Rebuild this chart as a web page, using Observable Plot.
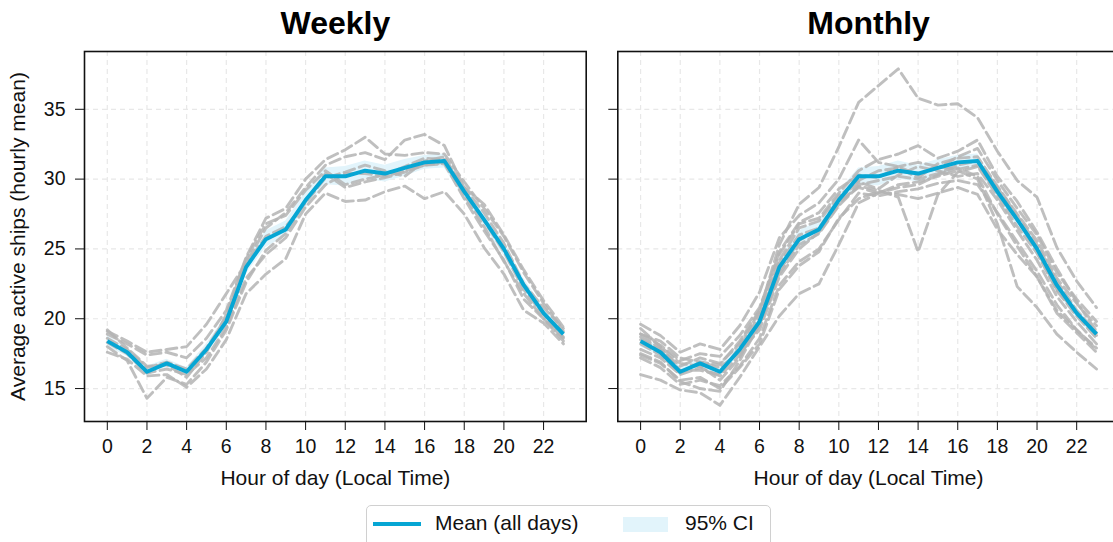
<!DOCTYPE html>
<html>
<head>
<meta charset="utf-8">
<script src="https://cdn.jsdelivr.net/npm/d3@7"></script>
<script src="https://cdn.jsdelivr.net/npm/@observablehq/plot@0.6"></script>
<style>
  html, body { margin: 0; padding: 0; background: #fff; overflow: hidden; }
  #wrap { position: relative; width: 1113px; height: 542px; overflow: hidden; font-family: "Liberation Sans", Arial, sans-serif; }
  .panel { position: absolute; top: 0; }
  #legend { position: absolute; left: 366px; top: 505px; width: 405px; height: 48px; border: 1.5px solid #d0d0d0; border-radius: 5px; box-sizing: border-box; background: #fff; font-size: 21px; color: #111; }
  #legend .item { position: absolute; top: 5px; }
</style>
</head>
<body>
<div id="wrap">
  <div id="pw" class="panel" style="left:0px;width:600px"></div>
  <div id="pm" class="panel" style="left:600px;width:520px"></div>
  <div id="legend">
    <div style="position:absolute;left:6px;top:16px;width:48px;height:4px;background:#06a6d4"></div>
    <div class="item" style="left:68px">Mean (all days)</div>
    <div style="position:absolute;left:256px;top:11px;width:45px;height:15px;background:#e2f4fb"></div>
    <div class="item" style="left:318px">95% CI</div>
  </div>
</div>
<script>
// ---------------- data ----------------
const hours = [0,1,2,3,4,5,6,7,8,9,10,11,12,13,14,15,16,17,18,19,20,21,22,23];
const xTicks = [0,2,4,6,8,10,12,14,16,18,20,22];
const yTicks = [15,20,25,30,35];
const panelTitles = ["Weekly", "Monthly"];

const meanAll = [18.4,17.6,16.2,16.8,16.2,17.8,19.8,23.7,25.7,26.4,28.5,30.2,30.2,30.6,30.4,30.8,31.2,31.3,29.1,27.1,25.0,22.4,20.4,18.9];
const ciLow  = [18.0,17.3,15.9,16.5,15.9,17.4,19.4,23.2,25.1,25.9,27.9,29.6,29.5,30.0,29.8,30.2,30.7,30.8,28.6,26.6,24.5,21.9,20.0,18.5];
const ciHigh = [18.8,17.9,16.6,17.1,16.5,18.2,20.2,24.2,26.3,27.0,29.1,30.8,30.9,31.3,31.0,31.4,31.7,31.8,29.6,27.6,25.5,22.9,20.8,19.3];

const weekly1 = [18.9,18.2,17.4,17.6,17.2,18.6,20.6,24.4,27.2,27.9,30.0,31.4,32.1,33.0,31.8,31.7,31.9,31.8,29.8,27.9,25.9,23.3,21.1,19.1];
const weekly2 = [19.1,18.4,17.6,17.8,18.0,19.6,21.8,24.0,26.5,27.6,29.4,31.0,31.6,31.9,31.4,32.8,33.2,32.4,29.4,28.2,26.0,23.5,21.3,19.4];
const weekly3 = [18.0,17.0,14.3,15.8,15.3,16.9,19.2,22.6,24.9,26.1,28.4,30.4,29.4,29.8,30.1,30.5,31.0,31.1,28.6,26.3,24.2,21.4,20.0,18.4];
const weekly4 = [17.6,17.1,15.9,16.0,15.1,16.4,18.5,21.8,23.2,24.3,27.5,29.0,28.4,28.5,29.1,29.5,28.6,29.1,27.5,25.1,23.2,20.6,19.7,18.2];
const weekly5 = [18.6,17.8,16.5,16.9,16.4,17.9,20.1,23.9,25.9,26.6,28.3,30.1,30.5,31.0,30.6,30.2,31.3,31.6,29.2,27.0,24.8,22.1,20.3,18.7];
const weekly6 = [19.2,17.9,16.6,16.7,15.8,17.6,20.3,24.3,26.8,27.4,29.2,30.6,29.6,30.0,30.3,30.9,31.5,31.4,29.4,27.6,25.4,22.5,20.8,19.3];
const weekly7 = [18.3,17.5,16.1,16.4,16.0,17.2,19.4,22.9,24.6,25.8,28.0,29.6,30.4,30.4,30.2,30.6,31.0,31.2,28.9,26.6,24.1,21.8,20.0,18.6];

const monthly1  = [18.5,17.8,16.6,17.2,16.8,18.2,20.5,25.3,28.2,29.4,32.3,35.5,36.7,37.9,35.8,35.3,35.4,34.4,32.0,29.9,28.7,25.1,22.7,20.8];
const monthly2  = [17.8,17.2,16.0,16.5,15.9,17.4,19.5,23.2,25.3,26.1,28.1,29.5,29.2,28.7,24.8,28.9,30.5,30.9,28.8,26.6,24.7,22.0,20.2,18.6];
const monthly3  = [16.0,15.6,14.9,14.7,13.8,15.8,18.0,20.2,21.8,22.5,25.3,28.3,29.0,29.4,29.6,30.3,30.8,30.2,27.5,25.2,23.0,20.6,19.2,17.9];
const monthly4  = [17.5,16.9,15.5,15.0,14.8,17.0,19.6,23.4,25.6,26.4,28.4,29.4,29.0,29.6,29.8,30.2,30.6,30.0,26.8,22.3,20.8,18.9,17.6,16.4];
const monthly5  = [17.4,16.8,15.6,15.8,15.0,16.5,18.2,22.1,23.8,24.8,27.2,28.6,29.1,28.9,28.6,29.0,29.4,28.9,26.4,24.6,23.0,20.4,19.0,17.6];
const monthly6  = [19.6,18.8,17.6,18.2,17.8,19.5,21.9,25.8,27.4,28.3,30.0,32.8,31.2,30.9,30.3,30.8,31.6,32.2,29.9,27.9,26.0,23.3,21.4,19.8];
const monthly7  = [18.9,18.1,17.0,17.5,17.3,18.8,20.8,24.6,26.8,27.2,29.0,30.6,31.4,31.8,32.4,31.5,32.0,32.8,30.2,28.4,26.2,23.6,21.2,19.1];
const monthly8  = [18.2,17.4,16.1,16.9,16.5,17.6,19.2,23.0,25.0,26.2,28.2,29.6,29.9,30.2,30.0,30.4,31.0,31.3,29.4,27.4,25.3,22.7,20.6,19.0];
const monthly9  = [19.3,18.0,16.8,16.6,15.6,17.2,19.9,24.0,26.0,26.5,28.6,29.8,29.3,30.3,30.9,30.6,30.2,30.4,28.5,26.3,24.2,21.6,19.8,18.2];
const monthly10 = [18.7,17.9,16.3,16.3,16.0,18.0,20.2,24.2,26.5,27.0,28.8,29.9,30.6,30.8,30.1,31.1,31.5,31.6,29.5,27.5,25.6,22.9,21.1,19.5];
const monthly11 = [17.2,16.5,15.3,15.6,15.2,16.6,18.6,22.4,24.1,25.0,27.1,29.0,28.8,29.1,29.3,29.7,29.9,29.6,27.6,25.5,23.4,21.0,19.2,17.8];
const monthly12 = [18.9,18.4,17.2,16.9,16.7,18.4,20.6,24.8,26.9,27.6,29.3,30.3,30.1,30.9,31.2,30.9,30.7,31.0,29.0,27.1,24.9,22.1,20.4,18.8];

const weeklySeries = [weekly1, weekly2, weekly3, weekly4, weekly5, weekly6, weekly7];
const monthlySeries = [monthly1, monthly2, monthly3, monthly4, monthly5, monthly6, monthly7, monthly8, monthly9, monthly10, monthly11, monthly12];

// ---------------- tables ----------------
function toRows(seriesList) {
  const rows = [];
  seriesList.forEach((s, i) => s.forEach((v, h) => rows.push({series: i, hour: hours[h], value: v})));
  return rows;
}
const meanRows = hours.map((h, i) => ({hour: h, mean: meanAll[i], lo: ciLow[i], hi: ciHigh[i]}));

const FONT = '"Liberation Sans", Arial, sans-serif';
const BLUE = "#06a6d4";

function panel(title, seriesList, opts) {
  return Plot.plot({
    width: opts.width,
    height: 500,
    marginLeft: opts.marginLeft,
    marginRight: opts.marginRight,
    marginTop: 51,
    marginBottom: 79,
    style: {fontFamily: FONT, fontSize: "21px", color: "#111", background: "transparent", overflow: "visible", maxWidth: "none"},
    x: {domain: [-1.15, 24.15], ticks: xTicks},
    y: {domain: [12.64, 39.14], ticks: yTicks},
    marks: [
      Plot.gridX(xTicks, {stroke: "#e8e8e8", strokeOpacity: 1, strokeWidth: 1.2, strokeDasharray: "5,4"}),
      Plot.gridY(yTicks, {stroke: "#e8e8e8", strokeOpacity: 1, strokeWidth: 1.2, strokeDasharray: "5,4"}),
      Plot.areaY(meanRows, {x: "hour", y1: "lo", y2: "hi", fill: "#e2f4fb", fillOpacity: 1}),
      Plot.line(toRows(seriesList), {x: "hour", y: "value", z: "series", stroke: "#b4b4b4", strokeOpacity: 0.85, strokeWidth: 2.9, strokeDasharray: "11,5", strokeLinejoin: "round"}),
      Plot.line(meanRows, {x: "hour", y: "mean", stroke: BLUE, strokeWidth: 3.9, strokeLinejoin: "round", strokeLinecap: "butt"}),
      Plot.frame({stroke: "#111", strokeWidth: 1.6}),
      Plot.axisX(xTicks, {tickSize: 9, tickPadding: 9, tickFormat: d => String(d), fontSize: 19.5, label: null}),
      Plot.axisX(xTicks, {tickSize: 0, text: null, label: "Hour of day (Local Time)", labelAnchor: "center", labelArrow: "none", labelOffset: 63, fontSize: 21}),
      opts.yLabels
        ? Plot.axisY(yTicks, {tickSize: 9, tickPadding: 10, fontSize: 19.5, label: null})
        : Plot.axisY(yTicks, {tickSize: 9, tickFormat: () => "", label: null}),
      opts.yLabels
        ? Plot.axisY(yTicks, {tickSize: 0, text: null, label: "Average active ships (hourly mean)", labelAnchor: "center", labelArrow: "none", labelOffset: 74, fontSize: 21})
        : null,
      Plot.text([title], {text: d => d, frameAnchor: "top", dy: -40, fontSize: 32, fontWeight: "bold", fill: "#000"})
    ]
  });
}

document.getElementById("pw").appendChild(panel(panelTitles[0], weeklySeries, {width: 600, marginLeft: 84, marginRight: 14.3, yLabels: true}));
document.getElementById("pm").appendChild(panel(panelTitles[1], monthlySeries, {width: 520, marginLeft: 17.3, marginRight: 1.2, yLabels: false}));
</script>
</body>
</html>
